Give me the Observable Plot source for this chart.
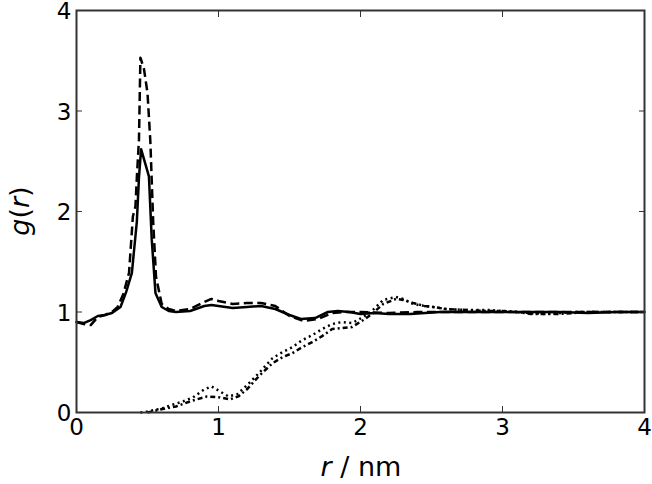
<!DOCTYPE html>
<html>
<head>
<meta charset="utf-8">
<script src="https://cdn.jsdelivr.net/npm/d3@7"></script>
<script src="https://cdn.jsdelivr.net/npm/@observablehq/plot@0.6"></script>
<style>
  html, body { margin: 0; padding: 0; background: #fff; }
  #chart svg { display: block; overflow: visible; }
</style>
</head>
<body>
<div id="chart"></div>
<script>
// Series A (solid)
const solidX = [0, 0.05, 0.1, 0.15, 0.2, 0.25, 0.31, 0.35, 0.39, 0.425, 0.44, 0.455, 0.51, 0.53, 0.556, 0.6, 0.65, 0.7, 0.8, 0.9, 0.95, 1.0, 1.1, 1.2, 1.3, 1.4, 1.5, 1.58, 1.68, 1.77, 1.84, 1.92, 2.0, 2.1, 2.2, 2.35, 2.56, 2.8, 3.0, 3.2, 3.4, 3.6, 3.8, 4.0];
const solidY = [0.90, 0.89, 0.92, 0.96, 0.97, 0.99, 1.05, 1.20, 1.39, 1.90, 2.34, 2.62, 2.35, 1.72, 1.19, 1.05, 1.01, 1.00, 1.01, 1.06, 1.07, 1.06, 1.04, 1.05, 1.06, 1.03, 0.97, 0.93, 0.94, 1.00, 1.01, 1.00, 0.98, 0.99, 0.98, 0.98, 1.00, 1.00, 1.00, 1.00, 1.00, 0.99, 1.00, 1.00];
// Series B (dashed)
const dashX = [0, 0.05, 0.1, 0.15, 0.2, 0.25, 0.29, 0.33, 0.37, 0.397, 0.415, 0.425, 0.44, 0.45, 0.475, 0.5, 0.52, 0.54, 0.56, 0.6, 0.65, 0.7, 0.8, 0.9, 0.95, 1.0, 1.1, 1.2, 1.3, 1.4, 1.5, 1.6, 1.7, 1.8, 1.9, 2.0, 2.2, 2.4, 2.6, 2.8, 3.0, 3.2, 3.4, 3.6, 3.8, 4.0];
const dashY = [0.90, 0.88, 0.87, 0.95, 0.97, 1.00, 1.05, 1.18, 1.39, 1.95, 2.05, 2.34, 2.72, 3.53, 3.42, 3.18, 2.70, 1.90, 1.35, 1.08, 1.03, 1.01, 1.03, 1.10, 1.13, 1.11, 1.08, 1.09, 1.09, 1.06, 0.96, 0.91, 0.93, 0.99, 1.00, 1.00, 0.99, 1.00, 1.00, 1.00, 1.00, 1.00, 1.00, 1.00, 1.00, 1.00];
// Series C (dotted)
const dotX = [0.45, 0.5, 0.6, 0.66, 0.75, 0.82, 0.9, 0.95, 1.01, 1.07, 1.13, 1.2, 1.29, 1.38, 1.45, 1.52, 1.59, 1.66, 1.73, 1.8, 1.87, 1.94, 2.02, 2.08, 2.16, 2.25, 2.3, 2.37, 2.45, 2.51, 2.6, 2.75, 2.9, 3.0, 3.1, 3.2, 3.3, 3.4, 3.5, 3.6, 3.8, 4.0];
const dotY = [0, 0.01, 0.04, 0.07, 0.11, 0.15, 0.23, 0.26, 0.21, 0.16, 0.18, 0.27, 0.40, 0.54, 0.60, 0.65, 0.72, 0.77, 0.83, 0.88, 0.90, 0.89, 0.95, 1.01, 1.12, 1.15, 1.13, 1.08, 1.06, 1.05, 1.03, 1.02, 1.02, 1.01, 1.00, 0.99, 0.98, 0.99, 1.00, 1.00, 1.00, 1.00];
// Series D (dash-dot)
const dashDotX = [0.5, 0.59, 0.7, 0.82, 0.92, 1.01, 1.08, 1.14, 1.2, 1.29, 1.38, 1.45, 1.52, 1.59, 1.66, 1.73, 1.8, 1.87, 1.94, 2.02, 2.08, 2.16, 2.25, 2.3, 2.37, 2.45, 2.51, 2.6, 2.75, 2.9, 3.0, 3.1, 3.2, 3.3, 3.4, 3.5, 3.6, 3.8, 4.0];
const dashDotY = [0, 0.03, 0.06, 0.12, 0.16, 0.15, 0.13, 0.16, 0.23, 0.37, 0.49, 0.55, 0.59, 0.65, 0.70, 0.76, 0.83, 0.84, 0.85, 0.92, 0.98, 1.08, 1.13, 1.12, 1.09, 1.06, 1.05, 1.03, 1.02, 1.01, 1.01, 1.00, 0.98, 0.98, 0.98, 0.99, 1.00, 1.00, 1.00];

const xTicks = [0, 1, 2, 3, 4];
const yTicks = [0, 1, 2, 3, 4];

const toRows = (xs, ys) => xs.map((x, i) => ({x, y: ys[i]}));
const font = "DejaVu Sans";

const lineStyle = {x: "x", y: "y", stroke: "black", strokeWidth: 2.5, strokeLinejoin: "round"};

const chart = Plot.plot({
  width: 652,
  height: 484,
  marginLeft: 76,
  marginRight: 8,
  marginTop: 10,
  marginBottom: 72,
  style: {fontFamily: font, fontSize: "23px", background: "white", color: "black", overflow: "visible"},
  x: {domain: [0, 4]},
  y: {domain: [0, 4]},
  marks: [
    Plot.line(toRows(solidX, solidY), {...lineStyle}),
    Plot.line(toRows(dashX, dashY), {...lineStyle, strokeLinecap: "butt", strokeDasharray: "9,4.5"}),
    Plot.line(toRows(dotX, dotY), {...lineStyle, strokeLinecap: "butt", strokeDasharray: "2,3.5"}),
    Plot.line(toRows(dashDotX, dashDotY), {...lineStyle, strokeLinecap: "butt", strokeDasharray: "5,3,2,3"}),
    Plot.frame({stroke: "#333", strokeWidth: 2}),
    Plot.axisX(xTicks, {anchor: "bottom", tickSize: -6, tickFormat: () => "", label: null, stroke: "#333"}),
    Plot.axisX(xTicks, {anchor: "top", tickSize: -6, tickFormat: () => "", label: null, stroke: "#333"}),
    Plot.axisY(yTicks, {anchor: "left", tickSize: -6, tickFormat: () => "", label: null, stroke: "#333"}),
    Plot.axisY(yTicks, {anchor: "right", tickSize: -6, tickFormat: () => "", label: null, stroke: "#333"}),
    Plot.axisX(xTicks, {anchor: "bottom", tickSize: 0, tickPadding: 6, label: null, fontSize: 23, fill: "black", tickFormat: d => String(d)}),
    Plot.axisY(yTicks, {anchor: "left", tickSize: 0, tickPadding: 5, dy: 1.5, label: null, fontSize: 23, fill: "black", tickFormat: d => String(d)})
  ]
});

// Axis titles with italic variable names
const svg = d3.select(chart);
const xt = svg.append("text")
  .attr("x", 361).attr("y", 476)
  .attr("text-anchor", "middle")
  .attr("font-family", font).attr("font-size", 27).attr("fill", "black");
xt.append("tspan").attr("font-style", "italic").text("r");
xt.append("tspan").text(" / nm");

const yt = svg.append("text")
  .attr("transform", "translate(29,211) rotate(-90)")
  .attr("text-anchor", "middle")
  .attr("font-family", font).attr("font-size", 27).attr("fill", "black");
yt.append("tspan").attr("font-style", "italic").text("g");
yt.append("tspan").text("(");
yt.append("tspan").attr("font-style", "italic").text("r");
yt.append("tspan").text(")");

document.getElementById("chart").appendChild(chart);
</script>
</body>
</html>
